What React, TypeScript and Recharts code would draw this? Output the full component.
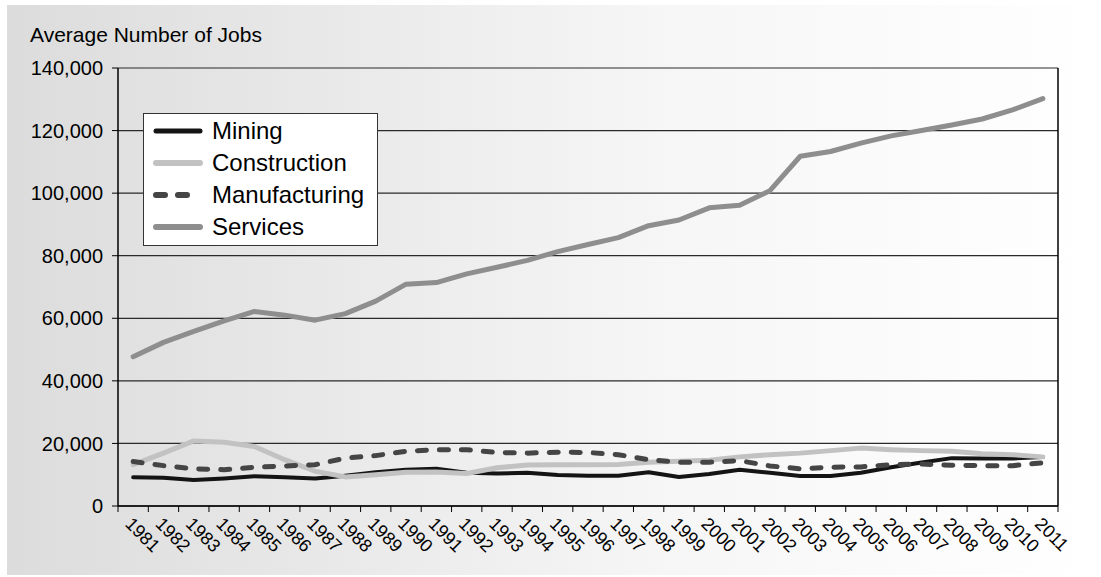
import React from 'react';
import { LineChart, Line, XAxis, YAxis, CartesianGrid } from 'recharts';

const years = [
  '1981', '1982', '1983', '1984', '1985', '1986', '1987', '1988', '1989', '1990', '1991',
  '1992', '1993', '1994', '1995', '1996', '1997', '1998', '1999', '2000', '2001', '2002',
  '2003', '2004', '2005', '2006', '2007', '2008', '2009', '2010', '2011',
];

const mining = [
  9200, 9000, 8300, 8800, 9500, 9200, 8800, 9700, 10800, 11600, 11900,
  10600, 10400, 10600, 9900, 9700, 9700, 10800, 9300, 10200, 11600, 10600,
  9600, 9600, 10600, 12400, 13900, 15300, 15200, 15200, 15700,
];

const construction = [
  13200, 16900, 20800, 20400, 19000, 14800, 11100, 9300, 10000, 10800, 10900,
  10400, 12200, 13100, 13200, 13200, 13300, 14000, 14300, 14600, 15700, 16400,
  16900, 17700, 18500, 18000, 17700, 17500, 16700, 16400, 15700,
];

const manufacturing = [
  14200, 12900, 11900, 11600, 12400, 12800, 13200, 15300, 16100, 17500, 18000,
  18000, 17100, 16900, 17200, 17100, 16400, 14800, 14000, 14000, 14500, 12800,
  11900, 12400, 12500, 13200, 13400, 13000, 12900, 12900, 13800,
];

const services = [
  47700, 52300, 55800, 59200, 62200, 61000, 59400, 61500, 65500, 70900, 71400,
  74200, 76300, 78500, 81300, 83600, 85800, 89600, 91400, 95300, 96100, 100800,
  111800, 113300, 116000, 118300, 120000, 121800, 123700, 126600, 130200,
];

const yTicks = [0, 20000, 40000, 60000, 80000, 100000, 120000, 140000];

const series = [
  { key: 'mining', name: 'Mining', color: '#141414', width: 4, dash: undefined },
  { key: 'construction', name: 'Construction', color: '#c2c2c2', width: 5, dash: undefined },
  { key: 'manufacturing', name: 'Manufacturing', color: '#454545', width: 5, dash: '9 13' },
  { key: 'services', name: 'Services', color: '#8e8e8e', width: 5, dash: undefined },
];

const data = years.map((year, i) => ({
  year,
  mining: mining[i],
  construction: construction[i],
  manufacturing: manufacturing[i],
  services: services[i],
}));

const FONT = '"Liberation Sans", Arial, sans-serif';
const PLOT_W = 940;
const BAND = PLOT_W / years.length;

const YearTick = (props: any) => {
  const { x, y, payload, index } = props;
  const tx = x - 9;
  const ty = y + 19;
  return (
    <g>
      <line x1={x - BAND / 2} y1={y} x2={x - BAND / 2} y2={y + 6} stroke="#000" />
      {index === years.length - 1 && (
        <line x1={x + BAND / 2} y1={y} x2={x + BAND / 2} y2={y + 6} stroke="#000" />
      )}
      <text
        x={tx}
        y={ty}
        transform={`rotate(45 ${tx} ${ty})`}
        fontSize={18}
        fontFamily={FONT}
        fill="#000"
        textAnchor="start"
      >
        {payload.value}
      </text>
    </g>
  );
};

const LegendBox = () => (
  <div
    style={{
      position: 'absolute',
      left: 143,
      top: 113,
      width: 233,
      height: 130,
      background: '#fff',
      border: '1.5px solid #333',
      paddingTop: 1,
      fontFamily: FONT,
      fontSize: 24,
    }}
  >
    {series.map((s) => (
      <div key={s.key} style={{ display: 'flex', alignItems: 'center', height: 32 }}>
        <svg width={68} height={12} style={{ flex: 'none' }}>
          <line
            x1={12}
            y1={6}
            x2={56}
            y2={6}
            stroke={s.color}
            strokeWidth={s.width + 1}
            strokeDasharray={s.dash}
            strokeLinecap="round"
          />
        </svg>
        <span style={{ color: '#000' }}>{s.name}</span>
      </div>
    ))}
  </div>
);

export default function App() {
  return (
    <div style={{ position: 'absolute', left: 0, top: 0, width: 1101, height: 577, background: '#fff', overflow: 'hidden' }}>
      <div
        style={{
          position: 'absolute',
          left: 7,
          top: 5,
          width: 1094,
          height: 570,
          background: 'linear-gradient(90deg, #dcdcdc 0%, #f6f6f6 60%, #ffffff 100%)',
        }}
      />
      <div
        style={{
          position: 'absolute',
          left: 30,
          top: 24,
          fontFamily: FONT,
          fontSize: 21,
          lineHeight: '22px',
          color: '#000',
        }}
      >
        Average Number of Jobs
      </div>
      <div style={{ position: 'absolute', left: 0, top: 0 }}>
        <LineChart width={1101} height={577} data={data} margin={{ top: 68, right: 42, bottom: 11, left: 0 }}>
          <CartesianGrid horizontal vertical={false} stroke="#2a2a2a" strokeWidth={1.2} />
          <XAxis
            dataKey="year"
            scale="band"
            interval={0}
            height={60}
            tickSize={0}
            tickMargin={0}
            tickLine={false}
            axisLine={{ stroke: '#000', strokeWidth: 1.5 }}
            tick={<YearTick />}
          />
          <YAxis
            domain={[0, 140000]}
            ticks={yTicks}
            width={118}
            tickSize={6}
            tickMargin={9}
            interval={0}
            tickLine={{ stroke: '#000' }}
            axisLine={{ stroke: '#000', strokeWidth: 1.5 }}
            tick={{ fill: '#000', fontSize: 20, fontFamily: FONT }}
            tickFormatter={(v: number) => v.toLocaleString('en-US')}
          />
          <YAxis
            yAxisId="right"
            orientation="right"
            width={1}
            tick={false}
            tickLine={false}
            axisLine={{ stroke: '#000', strokeWidth: 1.5 }}
          />
          {series.map((s) => (
            <Line
              key={s.key}
              type="linear"
              dataKey={s.key}
              stroke={s.color}
              strokeWidth={s.width}
              strokeDasharray={s.dash}
              strokeLinecap="round"
              strokeLinejoin="round"
              dot={false}
              activeDot={false}
              isAnimationActive={false}
            />
          ))}
        </LineChart>
      </div>
      <LegendBox />
    </div>
  );
}
